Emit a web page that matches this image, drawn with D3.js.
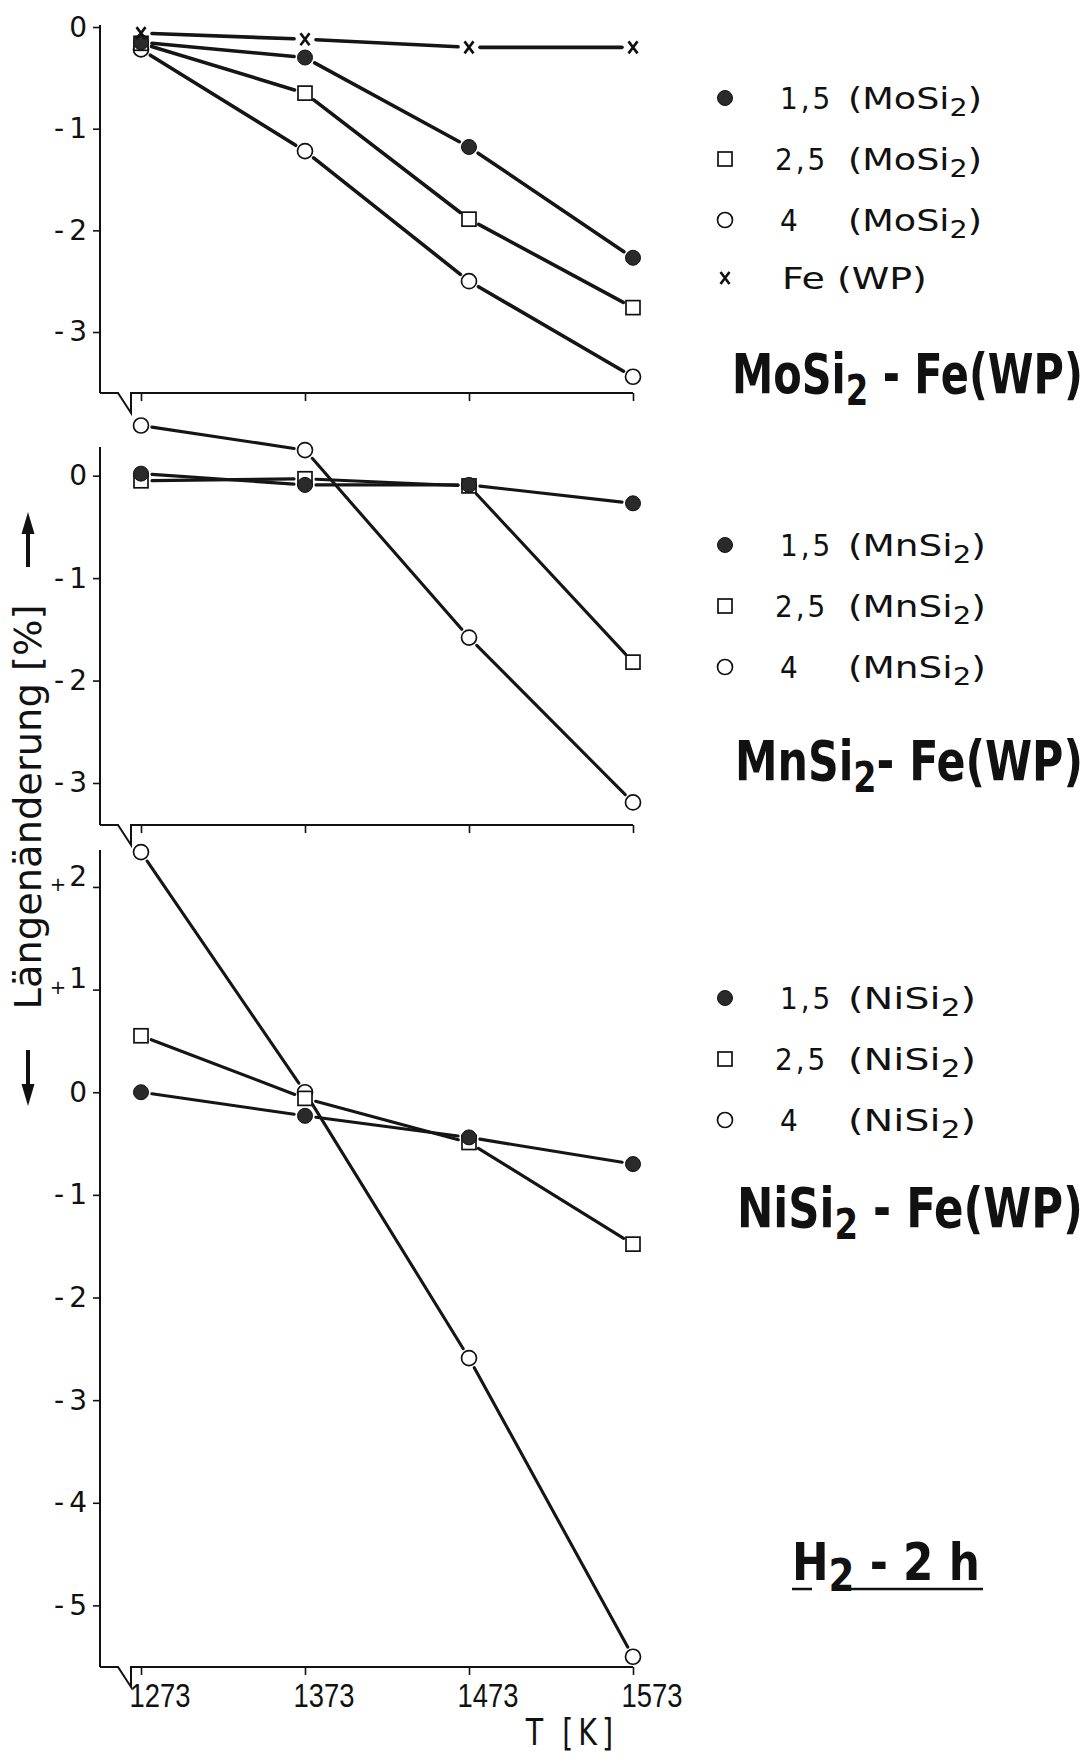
<!DOCTYPE html>
<html>
<head>
<meta charset="utf-8">
<script src="https://cdn.jsdelivr.net/npm/d3@7"></script>
<style>
  body { margin: 0; background: #fff; }
  svg { display: block; font-family: "DejaVu Sans Condensed", "DejaVu Sans", sans-serif; }
</style>
</head>
<body>
<div id="viz"></div>
<script>
// temperatures (K)
const temps = [1273, 1373, 1473, 1573];

// MoSi2 - Fe(WP)
const mo15 = [-0.15, -0.30, -1.18, -2.27];
const mo25 = [-0.16, -0.65, -1.89, -2.76];
const mo4  = [-0.22, -1.22, -2.50, -3.44];
const feWP = [-0.06, -0.12, -0.20, -0.20];

// MnSi2 - Fe(WP)
const mn15 = [0.02, -0.09, -0.09, -0.27];
const mn25 = [-0.05, -0.03, -0.10, -1.82];
const mn4  = [0.49, 0.25, -1.58, -3.19];

// NiSi2 - Fe(WP)
const ni15 = [0.00, -0.23, -0.44, -0.70];
const ni25 = [0.55, -0.06, -0.49, -1.48];
const ni4  = [2.34, 0.00, -2.59, -5.50];

const ticksMo = [0, -1, -2, -3];
const ticksMn = [0, -1, -2, -3];
const ticksNi = [2, 1, 0, -1, -2, -3, -4, -5];

const legendNums = ["1,5", "2,5", "4"];
const compounds = ["MoSi", "MnSi", "NiSi"];

const W = 1092, H = 1755;
const svg = d3.select("#viz").append("svg")
  .attr("width", W)
  .attr("height", H);

const x = d3.scaleLinear().domain([1273, 1573]).range([141, 633]);
const axisX = 100;

// stretch/squeeze a text horizontally so it spans [left, left+width]
function fit(sel, left, width) {
  const b = sel.node().getBBox();
  const k = width / b.width;
  sel.attr("transform", `translate(${left},0) scale(${k},1) translate(${-b.x},0)`);
}

function addFormula(t, base, sub, rest) {
  t.append("tspan").text(base);
  t.append("tspan").attr("font-size", "0.78em").attr("dy", "0.28em").text(sub);
  if (rest) t.append("tspan").attr("dy", "-0.22em").text(rest);
}

function drawMarker(g, sym, cx, cy) {
  if (sym === "filled") {
    g.append("circle").attr("cx", cx).attr("cy", cy).attr("r", 7.5)
      .attr("fill", "#2a2a2a").attr("stroke", "#111").attr("stroke-width", 1);
  } else if (sym === "open") {
    g.append("circle").attr("cx", cx).attr("cy", cy).attr("r", 7.5)
      .attr("fill", "#fff").attr("stroke", "#111").attr("stroke-width", 1.7);
  } else if (sym === "square") {
    g.append("rect").attr("x", cx - 7).attr("y", cy - 7).attr("width", 14).attr("height", 14)
      .attr("fill", "#fff").attr("stroke", "#111").attr("stroke-width", 1.7);
  } else {
    g.append("path")
      .attr("d", `M${cx-4.5},${cy-6}L${cx+4.5},${cy+6}M${cx+4.5},${cy-6}L${cx-4.5},${cy+6}`)
      .attr("stroke", "#111").attr("stroke-width", 2.6).attr("fill", "none");
  }
}

const panels = [
  { domain: [0.02, -3.6], range: [25, 393], ticks: ticksMo,
    series: [{v: mo4, sym: "open"}, {v: mo25, sym: "square"}, {v: mo15, sym: "filled"}, {v: feWP, sym: "cross"}],
    legendY: 98, comp: compounds[0], fe: true, formulaW: 134,
    title: {left: 732, width: 351, base: 393, parts: ["MoSi", "2", " - Fe(WP)"]} },
  { domain: [0.28, -3.41], range: [447, 825], ticks: ticksMn,
    series: [{v: mn4, sym: "open"}, {v: mn25, sym: "square"}, {v: mn15, sym: "filled"}],
    legendY: 545, comp: compounds[1], fe: false, formulaW: 138,
    title: {left: 735, width: 348, base: 780, parts: ["MnSi", "2", "- Fe(WP)"]} },
  { domain: [2.36, -5.6], range: [850, 1667], ticks: ticksNi,
    series: [{v: ni4, sym: "open"}, {v: ni25, sym: "square"}, {v: ni15, sym: "filled"}],
    legendY: 998, comp: compounds[2], fe: false, formulaW: 128,
    title: {left: 737, width: 346, base: 1227, parts: ["NiSi", "2", " - Fe(WP)"]} }
];

panels.forEach((p, pi) => {
  const y = d3.scaleLinear().domain(p.domain).range(p.range);
  const y0 = p.range[1];
  const g = svg.append("g");

  // y axis
  const ya = g.append("g").attr("transform", `translate(${axisX},0)`)
    .call(d3.axisLeft(y).tickValues(p.ticks).tickSize(7).tickPadding(6));
  ya.select(".domain").remove();
  ya.selectAll(".tick line").attr("stroke", "#111").attr("stroke-width", 1.6);
  ya.selectAll(".tick text")
    .attr("font-family", "DejaVu Sans, sans-serif")
    .attr("font-size", 28).attr("fill", "#111")
    .each(function(d) {
      const t = d3.select(this).text("");
      if (d > 0) {
        t.append("tspan").attr("font-size", "0.7em").attr("dy", "0.2em").text("+");
        t.append("tspan").attr("dy", "-0.2em").attr("dx", 3).text(d);
      } else if (d < 0) {
        t.append("tspan").text("-");
        t.append("tspan").attr("dx", 5).text(-d);
      } else {
        t.text("0");
      }
    });
  g.append("line").attr("x1", axisX).attr("x2", axisX).attr("y1", p.range[0]).attr("y2", y0)
    .attr("stroke", "#111").attr("stroke-width", 2);

  // x axis with break
  const xa = g.append("g").attr("transform", `translate(0,${y0})`)
    .call(d3.axisBottom(x).tickValues(temps).tickSize(8).tickPadding(10)
      .tickFormat(pi === 2 ? d3.format("d") : () => ""));
  xa.select(".domain").remove();
  xa.selectAll(".tick line").attr("stroke", "#111").attr("stroke-width", 1.6);
  if (pi === 2) {
    xa.selectAll(".tick text")
      .attr("font-size", 33).attr("fill", "#111").attr("y", 40).attr("dy", 0)
      .each(function() { fit(d3.select(this), -12, 61); });
  }
  g.append("path")
    .attr("d", `M${axisX},${y0}H118L131,${y0 + 20}V${y0}H${x(1573)}`)
    .attr("fill", "none").attr("stroke", "#111").attr("stroke-width", 2);

  // lines broken at the markers
  const gap = 11;
  p.series.forEach(s => {
    const pts = s.v.map((v, i) => [x(temps[i]), y(v)]);
    for (let i = 0; i < pts.length - 1; i++) {
      const [ax, ay] = pts[i], [bx, by] = pts[i + 1];
      const len = Math.hypot(bx - ax, by - ay);
      const ux = (bx - ax) / len, uy = (by - ay) / len;
      g.append("line")
        .attr("x1", ax + ux * gap).attr("y1", ay + uy * gap)
        .attr("x2", bx - ux * gap).attr("y2", by - uy * gap)
        .attr("stroke", "#151515").attr("stroke-width", pi === 0 ? 3.6 : 3.1)
        .attr("stroke-linecap", "round");
    }
  });
  p.series.forEach(s => {
    s.v.forEach((v, i) => drawMarker(g, s.sym, x(temps[i]), y(v)));
  });

  // legend
  const syms = ["filled", "square", "open"];
  syms.forEach((sym, i) => {
    const ly = p.legendY + i * 61;
    drawMarker(g, sym, 725, ly);
    g.append("text").attr("x", i === 1 ? 775 : 780).attr("y", ly + 11)
      .attr("font-size", 31).attr("letter-spacing", 3).attr("fill", "#111")
      .text(legendNums[i]);
    const f = g.append("text").attr("x", 848).attr("y", ly + 11)
      .attr("font-size", 31).attr("fill", "#111");
    addFormula(f, "(" + p.comp, "2", ")");
    fit(f, 848, p.formulaW);
  });
  if (p.fe) {
    const ly = p.legendY + 3 * 60;
    drawMarker(g, "cross", 725, ly);
    const t = g.append("text").attr("x", 782).attr("y", ly + 11)
      .attr("font-size", 31).attr("fill", "#111").text("Fe (WP)");
    fit(t, 782, 145);
  }

  // panel title
  const tt = g.append("text").attr("x", p.title.left).attr("y", p.title.base)
    .attr("font-size", 55).attr("font-weight", "bold").attr("fill", "#111");
  addFormula(tt, p.title.parts[0], p.title.parts[1], p.title.parts[2]);
  fit(tt, p.title.left, p.title.width);
});

// y axis label and arrows
svg.append("text")
  .attr("transform", "translate(41,807) rotate(-90)")
  .attr("text-anchor", "middle")
  .attr("font-size", 37).attr("fill", "#111")
  .attr("textLength", 405).attr("lengthAdjust", "spacingAndGlyphs")
  .text("Längenänderung [%]");
svg.append("path").attr("d", "M28,567V530").attr("stroke", "#111").attr("stroke-width", 4);
svg.append("path").attr("d", "M28,512L21.5,534H34.5Z").attr("fill", "#111");
svg.append("path").attr("d", "M28,1050V1088").attr("stroke", "#111").attr("stroke-width", 4);
svg.append("path").attr("d", "M28,1106L21.5,1084H34.5Z").attr("fill", "#111");

// x axis title
const xt = svg.append("text").attr("x", 525).attr("y", 1745)
  .attr("font-size", 38).attr("letter-spacing", 6).attr("fill", "#111")
  .text("T [K]");
fit(xt, 525, 93);

// conditions note
const note = svg.append("text").attr("x", 792).attr("y", 1580)
  .attr("font-size", 52).attr("font-weight", "bold").attr("fill", "#111");
note.append("tspan").text("H");
note.append("tspan").attr("font-size", "0.85em").attr("dy", "0.25em").text("2");
note.append("tspan").attr("dy", "-0.22em").text(" -  2 h");
fit(note, 792, 188);
svg.append("path").attr("d", "M792,1589H812M847,1589H983")
  .attr("stroke", "#111").attr("stroke-width", 2.5);
</script>
</body>
</html>
